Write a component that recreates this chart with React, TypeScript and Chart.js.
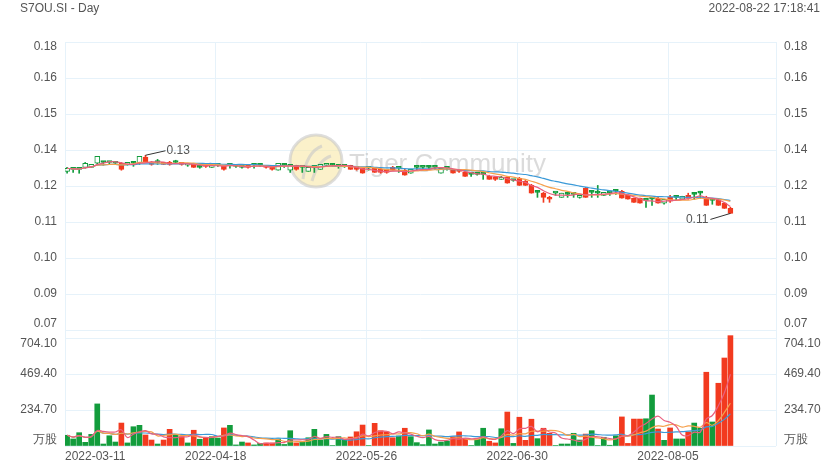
import React, { useEffect, useRef } from 'react';
import { Chart, registerables } from 'chart.js';

Chart.register(...registerables);

const TITLE = 'S7OU.SI - Day';
const TIMESTAMP = '2022-08-22 17:18:41';
const WATERMARK = 'Tiger Community';

// Daily OHLC (index 0 = 2022-03-11, index 110 = 2022-08-22)
const opens = [
  0.1301, 0.1308, 0.1308, 0.1315, 0.1315, 0.1330, 0.1333, 0.1333, 0.1330, 0.1330,
  0.1326, 0.1330, 0.1330, 0.1352, 0.1333, 0.1333, 0.1333, 0.1333, 0.1333, 0.1333,
  0.1323, 0.1326, 0.1315, 0.1326, 0.1315, 0.1323, 0.1319, 0.1323, 0.1319, 0.1315,
  0.1323, 0.1323, 0.1323, 0.1323, 0.1315, 0.1305, 0.1323, 0.1305, 0.1323, 0.1315,
  0.1301, 0.1315, 0.1308, 0.1323, 0.1323, 0.1319, 0.1319, 0.1323, 0.1319, 0.1312,
  0.1312, 0.1312, 0.1308, 0.1308, 0.1315, 0.1312, 0.1305, 0.1294, 0.1315, 0.1315,
  0.1315, 0.1315, 0.1294, 0.1312, 0.1308, 0.1308, 0.1297, 0.1290, 0.1290, 0.1290,
  0.1283, 0.1279, 0.1272, 0.1279, 0.1268, 0.1276, 0.1265, 0.1250, 0.1225, 0.1222,
  0.1207, 0.1222, 0.1207, 0.1218, 0.1218, 0.1207, 0.1240, 0.1225, 0.1222, 0.1214,
  0.1222, 0.1229, 0.1229, 0.1214, 0.1204, 0.1204, 0.1196, 0.1200, 0.1204, 0.1186,
  0.1207, 0.1207, 0.1200, 0.1214, 0.1218, 0.1222, 0.1207, 0.1196, 0.1196, 0.1186,
  0.1167,
];
const closes = [
  0.1312, 0.1308, 0.1308, 0.1330, 0.1326, 0.1355, 0.1333, 0.1333, 0.1330, 0.1308,
  0.1330, 0.1330, 0.1355, 0.1333, 0.1326, 0.1333, 0.1326, 0.1326, 0.1333, 0.1326,
  0.1330, 0.1315, 0.1315, 0.1319, 0.1330, 0.1326, 0.1308, 0.1323, 0.1319, 0.1319,
  0.1315, 0.1323, 0.1323, 0.1315, 0.1308, 0.1330, 0.1323, 0.1326, 0.1308, 0.1315,
  0.1315, 0.1315, 0.1326, 0.1326, 0.1323, 0.1319, 0.1319, 0.1308, 0.1308, 0.1294,
  0.1312, 0.1297, 0.1297, 0.1297, 0.1305, 0.1312, 0.1287, 0.1308, 0.1315, 0.1315,
  0.1315, 0.1315, 0.1312, 0.1312, 0.1294, 0.1301, 0.1283, 0.1290, 0.1290, 0.1290,
  0.1272, 0.1272, 0.1279, 0.1258, 0.1268, 0.1250, 0.1250, 0.1222, 0.1225, 0.1207,
  0.1200, 0.1222, 0.1222, 0.1218, 0.1218, 0.1214, 0.1207, 0.1225, 0.1222, 0.1225,
  0.1222, 0.1229, 0.1204, 0.1200, 0.1189, 0.1186, 0.1196, 0.1200, 0.1186, 0.1200,
  0.1193, 0.1207, 0.1211, 0.1204, 0.1218, 0.1222, 0.1178, 0.1196, 0.1178, 0.1167,
  0.1149,
];
const highs = [
  0.1315, 0.1312, 0.1308, 0.1333, 0.1326, 0.1355, 0.1337, 0.1333, 0.1333, 0.1333,
  0.1333, 0.1337, 0.1355, 0.1359, 0.1337, 0.1344, 0.1333, 0.1337, 0.1341, 0.1333,
  0.1330, 0.1330, 0.1319, 0.1326, 0.1330, 0.1330, 0.1323, 0.1326, 0.1323, 0.1323,
  0.1323, 0.1326, 0.1326, 0.1323, 0.1319, 0.1330, 0.1326, 0.1326, 0.1323, 0.1319,
  0.1315, 0.1315, 0.1326, 0.1326, 0.1326, 0.1323, 0.1323, 0.1323, 0.1319, 0.1312,
  0.1315, 0.1315, 0.1312, 0.1308, 0.1319, 0.1312, 0.1308, 0.1308, 0.1315, 0.1315,
  0.1319, 0.1315, 0.1312, 0.1312, 0.1308, 0.1308, 0.1301, 0.1294, 0.1297, 0.1294,
  0.1287, 0.1283, 0.1283, 0.1283, 0.1272, 0.1279, 0.1268, 0.1254, 0.1229, 0.1225,
  0.1211, 0.1222, 0.1222, 0.1222, 0.1222, 0.1214, 0.1243, 0.1229, 0.1250, 0.1225,
  0.1225, 0.1232, 0.1232, 0.1218, 0.1204, 0.1204, 0.1196, 0.1204, 0.1207, 0.1200,
  0.1214, 0.1211, 0.1211, 0.1222, 0.1222, 0.1229, 0.1211, 0.1200, 0.1200, 0.1189,
  0.1171,
];
const lows = [
  0.1294, 0.1297, 0.1294, 0.1312, 0.1315, 0.1326, 0.1323, 0.1326, 0.1326, 0.1305,
  0.1323, 0.1319, 0.1326, 0.1333, 0.1323, 0.1326, 0.1326, 0.1323, 0.1330, 0.1323,
  0.1319, 0.1315, 0.1312, 0.1315, 0.1315, 0.1319, 0.1305, 0.1312, 0.1315, 0.1312,
  0.1312, 0.1312, 0.1319, 0.1312, 0.1305, 0.1305, 0.1315, 0.1297, 0.1305, 0.1297,
  0.1301, 0.1297, 0.1308, 0.1319, 0.1319, 0.1312, 0.1315, 0.1308, 0.1305, 0.1294,
  0.1305, 0.1297, 0.1294, 0.1294, 0.1305, 0.1297, 0.1287, 0.1294, 0.1305, 0.1308,
  0.1308, 0.1308, 0.1294, 0.1305, 0.1294, 0.1297, 0.1283, 0.1283, 0.1287, 0.1272,
  0.1272, 0.1268, 0.1272, 0.1258, 0.1265, 0.1250, 0.1250, 0.1222, 0.1207, 0.1189,
  0.1189, 0.1214, 0.1207, 0.1207, 0.1207, 0.1204, 0.1207, 0.1207, 0.1207, 0.1214,
  0.1214, 0.1218, 0.1204, 0.1200, 0.1189, 0.1186, 0.1171, 0.1178, 0.1186, 0.1182,
  0.1189, 0.1196, 0.1200, 0.1200, 0.1200, 0.1204, 0.1178, 0.1182, 0.1178, 0.1167,
  0.1149,
];
// Volume in 万股
const volumes = [
  70, 46, 87, 24, 76, 275, 13, 67, 26, 150,
  20, 126, 135, 72, 39, 13, 39, 109, 74, 61,
  20, 103, 44, 52, 61, 52, 118, 135, 7, 26,
  20, 7, 17, 20, 20, 46, 10, 100, 20, 28,
  54, 109, 39, 76, 3, 61, 37, 59, 93, 137,
  3, 148, 100, 93, 54, 65, 116, 61, 22, 9,
  105, 13, 26, 33, 61, 92, 46, 3, 46, 116,
  31, 20, 113, 222, 17, 188, 37, 175, 48, 116,
  83, 3, 13, 13, 83, 39, 78, 100, 3, 57,
  5, 67, 190, 17, 176, 176, 178, 333, 111, 37,
  118, 46, 46, 92, 150, 116, 482, 157, 410, 575,
  721,
];

const maPeriods = [5, 10, 20];
const xTickIndex = [0, 25, 50, 75, 100];
const xTickLabels = ['2022-03-11', '2022-04-18', '2022-05-26', '2022-06-30', '2022-08-05'];
const priceTickValues = [0.0728, 0.0858, 0.0988, 0.1118, 0.1248, 0.1378, 0.1508, 0.1638, 0.1768];
const priceTickLabels = ['0.07', '0.09', '0.10', '0.11', '0.12', '0.14', '0.15', '0.16', '0.18'];
const volumeTickValues = [0, 234.7, 469.4, 704.1];
const volumeTickLabels = ['万股', '234.70', '469.40', '704.10'];
const highLabel = '0.13';
const lowLabel = '0.11';

const RED = '#f23a1f';
const GREEN = '#129c3c';
const MA_COLORS = ['#e9607f', '#f6a04c', '#3b9ad8'];
const GRID = '#e6f2fa';
const TEXT = '#555555';
const FONT = '12px "Liberation Sans", Arial, sans-serif';

const X_MIN = -0.35;
const X_MAX = 117.56;
const VOL_MAX = 758;

function movingAverage(arr: number[], p: number): number[] {
  return arr.map((_, i) => {
    const s = Math.max(0, i - p + 1);
    let sum = 0;
    for (let k = s; k <= i; k++) sum += arr[k];
    return sum / (i - s + 1);
  });
}

export default function App() {
  const ref = useRef<HTMLCanvasElement>(null);

  useEffect(() => {
    document.body.style.margin = '0';
    const canvas = ref.current!;
    const idx = closes.map((_, i) => i);
    const isUp = (i: number) => closes[i] >= opens[i];
    const colorOf = (i: number) => (isUp(i) ? GREEN : RED);

    const setTicks = (values: number[]) => (scale: any) => {
      scale.ticks = values.map((v) => ({ value: v }));
    };

    const textPlugin = {
      id: 'textPlugin',
      beforeDatasetsDraw(chart: any) {
        const ctx = chart.ctx;
        ctx.save();
        // watermark logo
        ctx.globalAlpha = 0.6;
        ctx.beginPath();
        ctx.arc(316, 161, 26, 0, Math.PI * 2);
        ctx.fillStyle = '#f9e7a6';
        ctx.fill();
        ctx.lineWidth = 3;
        ctx.strokeStyle = '#c8c8c8';
        ctx.stroke();
        ctx.beginPath();
        ctx.lineWidth = 3;
        ctx.moveTo(303, 179);
        ctx.quadraticCurveTo(306, 152, 322, 146);
        ctx.moveTo(312, 181);
        ctx.quadraticCurveTo(318, 160, 331, 156);
        ctx.stroke();
        ctx.globalAlpha = 0.55;
        ctx.fillStyle = '#bdbdbd';
        ctx.font = '26px "Liberation Sans", Arial, sans-serif';
        ctx.textAlign = 'left';
        ctx.textBaseline = 'middle';
        ctx.fillText(WATERMARK, 349, 165);
        ctx.restore();
      },
      afterDatasetsDraw(chart: any) {
        const ctx = chart.ctx;
        const xs = chart.scales.x;
        const yp = chart.scales.yPrice;
        let iMax = 0;
        let iMin = 0;
        highs.forEach((v, i) => { if (v > highs[iMax]) iMax = i; });
        lows.forEach((v, i) => { if (v < lows[iMin]) iMin = i; });
        ctx.save();
        ctx.strokeStyle = '#333333';
        ctx.lineWidth = 1;
        ctx.font = FONT;
        ctx.fillStyle = TEXT;
        ctx.textBaseline = 'middle';
        const hx = xs.getPixelForValue(iMax);
        const hy = yp.getPixelForValue(highs[iMax]);
        ctx.beginPath();
        ctx.moveTo(hx, hy);
        ctx.lineTo(hx + 20, hy - 4.5);
        ctx.stroke();
        ctx.textAlign = 'left';
        ctx.fillText(highLabel, hx + 21, hy - 5);
        const lx = xs.getPixelForValue(iMin);
        const ly = yp.getPixelForValue(lows[iMin]);
        ctx.beginPath();
        ctx.moveTo(lx, ly);
        ctx.lineTo(lx - 20, ly + 6);
        ctx.stroke();
        ctx.textAlign = 'right';
        ctx.fillText(lowLabel, lx - 22, ly + 6);
        ctx.restore();
      },
      afterDraw(chart: any) {
        const ctx = chart.ctx;
        const { left, right, bottom } = chart.chartArea;
        const xs = chart.scales.x;
        const yp = chart.scales.yPrice;
        const yv = chart.scales.yVol;
        ctx.save();
        ctx.font = FONT;
        ctx.fillStyle = TEXT;
        ctx.textBaseline = 'middle';
        const drawSide = (scale: any, values: number[], labels: string[]) => {
          values.forEach((v, k) => {
            let y = scale.getPixelForValue(v);
            if (k === values.length - 1) y += 5;
            if (k === 0) y -= 6;
            ctx.textAlign = 'right';
            ctx.fillText(labels[k], left - 8, y);
            ctx.textAlign = 'left';
            ctx.fillText(labels[k], right + 8, y);
          });
        };
        drawSide(yp, priceTickValues, priceTickLabels);
        drawSide(yv, volumeTickValues, volumeTickLabels);
        xTickIndex.forEach((v, k) => {
          const x = xs.getPixelForValue(v + X_MIN);
          ctx.textAlign = k === 0 ? 'left' : 'center';
          ctx.fillText(xTickLabels[k], k === 0 ? left : x, bottom + 11);
        });
        ctx.textAlign = 'left';
        ctx.fillText(TITLE, 20, 9);
        ctx.textAlign = 'right';
        ctx.fillText(TIMESTAMP, 820, 9);
        ctx.restore();
      },
    };

    const lineDs = (arr: number[], axis: string) =>
      maPeriods.map((p, k) => ({
        type: 'line' as const,
        yAxisID: axis,
        data: movingAverage(arr, p).map((v, i) => ({ x: i, y: v })),
        borderColor: MA_COLORS[k],
        borderWidth: 1.2,
        pointRadius: 0,
        tension: 0.35,
        fill: false,
        order: 0,
      }));

    const chart = new Chart(canvas, {
      type: 'bar',
      data: {
        datasets: [
          ...lineDs(closes, 'yPrice'),
          ...lineDs(volumes, 'yVol'),
          {
            type: 'bar',
            yAxisID: 'yPrice',
            data: idx.map((i) => ({ x: i, y: [opens[i], closes[i]] })),
            backgroundColor: idx.map((i) => (closes[i] > opens[i] ? '#ffffff' : colorOf(i))),
            borderColor: idx.map(colorOf),
            borderWidth: 1,
            borderSkipped: false,
            barThickness: 5,
            minBarLength: 2,
            grouped: false,
            order: 1,
          },
          {
            type: 'bar',
            yAxisID: 'yPrice',
            data: idx.map((i) => ({ x: i, y: [lows[i], highs[i]] })),
            backgroundColor: idx.map(colorOf),
            borderWidth: 0,
            barThickness: 1,
            grouped: false,
            order: 2,
          },
          {
            type: 'bar',
            yAxisID: 'yVol',
            data: idx.map((i) => ({ x: i, y: volumes[i] })),
            backgroundColor: idx.map(colorOf),
            borderWidth: 0,
            barThickness: 5,
            grouped: false,
            order: 3,
          },
        ] as any,
      },
      options: {
        animation: false,
        responsive: false,
        devicePixelRatio: 1,
        events: [],
        layout: { padding: { left: 65, right: 63, top: 42, bottom: 23 } },
        plugins: { legend: { display: false }, tooltip: { enabled: false } },
        scales: {
          x: {
            type: 'linear',
            min: X_MIN,
            max: X_MAX,
            offset: false,
            grid: { color: GRID, drawTicks: false, offset: false },
            border: { display: false },
            ticks: { display: false },
            afterBuildTicks: setTicks([X_MIN, ...xTickIndex.map((v) => v + X_MIN), X_MAX]),
          },
          yPrice: {
            type: 'linear',
            position: 'right',
            stack: 'panels',
            stackWeight: 288,
            min: priceTickValues[0],
            max: priceTickValues[priceTickValues.length - 1],
            grid: { color: GRID, drawTicks: false },
            border: { display: false },
            ticks: { display: false },
            afterBuildTicks: setTicks(priceTickValues),
          },
          yVol: {
            type: 'linear',
            position: 'right',
            stack: 'panels',
            stackWeight: 116,
            min: 0,
            max: VOL_MAX,
            grid: { color: GRID, drawTicks: false },
            border: { display: false },
            ticks: { display: false },
            afterBuildTicks: setTicks(volumeTickValues),
          },
        } as any,
      },
      plugins: [textPlugin],
    });
    return () => chart.destroy();
  }, []);

  return (
    <div style={{ position: 'absolute', left: 0, top: 0, width: 839, height: 469, background: '#ffffff' }}>
      <canvas ref={ref} width={839} height={469} />
    </div>
  );
}
